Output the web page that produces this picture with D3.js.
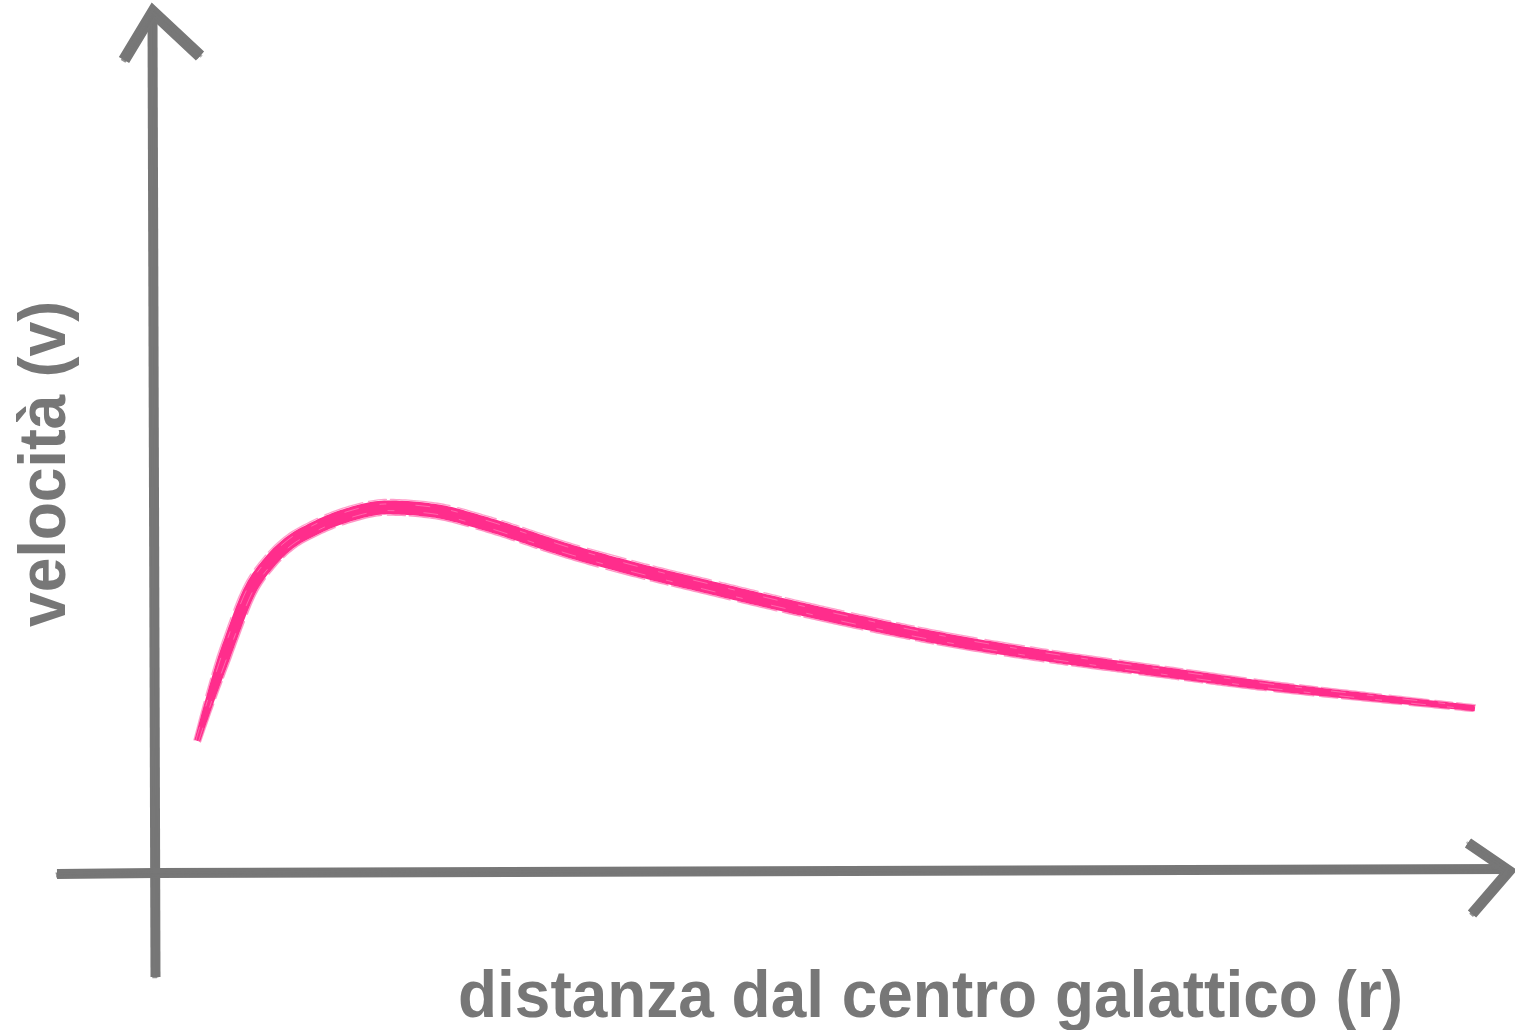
<!DOCTYPE html>
<html>
<head>
<meta charset="utf-8">
<script src="https://cdn.jsdelivr.net/npm/d3@7/dist/d3.min.js"></script>
<style>
  html, body { margin: 0; padding: 0; background: #fff; }
  svg { display: block; }
</style>
</head>
<body>
<svg id="chart" width="1515" height="1030"></svg>
<script>
// Rotation curve: orbital velocity vs distance from the galactic centre (arbitrary units)
const radius   = [3.2, 4.4, 5.7, 7.2, 8.7, 10.2, 12.0, 14.8, 17.6, 20.1, 21.6, 24.6, 31.7, 36.7, 41.8, 47.0, 51.9, 59.5, 67.0, 76.9, 83.7, 91.3, 100.0];
const velocity = [15.2, 21.1, 26.9, 32.7, 36.0, 38.2, 39.8, 41.5, 42.3, 42.1, 41.8, 40.6, 37.1, 35.0, 33.1, 31.2, 29.5, 27.1, 25.2, 23.1, 21.7, 20.4, 19.0];

const xLabel = "distanza dal centro galattico (r)";
const yLabel = "velocità (v)";

const svg = d3.select("#chart");
const axisColor = "#777777";
const curveColor = "#ff2d8c";

const x = d3.scaleLinear().domain([0, 100]).range([155, 1475]);
const y = d3.scaleLinear().domain([0, 100]).range([872, 10]);

// Hand-drawn look: every stroke is laid down a few times with small fixed offsets
const passes = [
  { dx: 0,    dy: 0,    w: 1.00, o: 1.00 },
  { dx: 0.8,  dy: -1.2, w: 0.55, o: 0.85 },
  { dx: -0.9, dy: 1.3,  w: 0.45, o: 0.80 },
  { dx: 1.6,  dy: 0.7,  w: 0.25, o: 0.55 },
  { dx: -1.5, dy: -0.8, w: 0.20, o: 0.50 }
];

function sketchLine(g, pts, width, color) {
  passes.forEach(p => {
    g.append("path")
      .attr("d", d3.line()(pts.map(([a, b]) => [a + p.dx, b + p.dy])))
      .attr("fill", "none")
      .attr("stroke", color)
      .attr("stroke-width", width * p.w)
      .attr("stroke-opacity", p.o)
      .attr("stroke-linecap", "butt")
      .attr("stroke-linejoin", "miter");
  });
}

const axes = svg.append("g").attr("class", "axes");

// vertical (velocity) axis with arrowhead
sketchLine(axes, [[x(0) + 0.5, 977], [x(0) - 2.5, y(100) + 6]], 10, axisColor);
sketchLine(axes, [[124, 60], [x(0) - 2, y(100) + 2], [200, 56]], 12, axisColor);

// horizontal (distance) axis with arrowhead
sketchLine(axes, [[57, 874], [x(0), 873], [1507, 869]], 10, axisColor);
sketchLine(axes, [[1468, 843], [1509, 871], [1472, 914]], 11, axisColor);

// rotation curve, drawn as a tapered brush stroke along a smooth path
const curve = svg.append("g").attr("class", "curve");
const pts = radius.map((r, i) => [x(r), y(velocity[i])]);
const guide = curve.append("path")
  .attr("d", d3.line().curve(d3.curveMonotoneX)(pts))
  .attr("fill", "none").attr("stroke", "none");
const node = guide.node();
const total = node.getTotalLength();
const N = 500;
const samples = d3.range(N + 1).map(i => {
  const p = node.getPointAtLength(total * i / N);
  return [p.x, p.y];
});
// brush width along the stroke (fraction of length -> px)
const brush = d3.scaleLinear().domain([0, 0.06, 0.2, 0.55, 0.8, 1]).range([6, 12, 14, 13, 10, 6]);
function normalAt(i) {
  const a = samples[Math.max(0, i - 3)], b = samples[Math.min(N, i + 3)];
  const dx = b[0] - a[0], dy = b[1] - a[1], len = Math.hypot(dx, dy) || 1;
  return [-dy / len, dx / len];
}
const left = [], right = [];
samples.forEach((s, i) => {
  const n = normalAt(i), w = brush(i / N) / 2;
  left.push([s[0] + n[0] * w, s[1] + n[1] * w]);
  right.push([s[0] - n[0] * w, s[1] - n[1] * w]);
});
curve.append("path")
  .attr("d", d3.line()(left.concat(right.reverse())) + "Z")
  .attr("fill", curveColor);

// loose bristle strands alongside the main stroke
const strands = [
  { off: 7.2,  w: 1.4, o: 0.5 },
  { off: -7.4, w: 1.3, o: 0.45 },
  { off: 3.0,  w: 0.8, o: 0.35, gap: true },
  { off: -3.2, w: 0.8, o: 0.35, gap: true }
];
strands.forEach(st => {
  const line = samples.map((s, i) => {
    const n = normalAt(i), k = brush(i / N) / 13;
    return [s[0] + n[0] * st.off * k, s[1] + n[1] * st.off * k];
  });
  curve.append("path")
    .attr("d", d3.line()(line))
    .attr("fill", "none")
    .attr("stroke", st.gap ? "#ffffff" : curveColor)
    .attr("stroke-width", st.w)
    .attr("stroke-opacity", st.o)
    .attr("stroke-dasharray", st.gap ? "14 22 6 30" : "40 6 18 4 60 8")
    .attr("stroke-linecap", "round");
});

// axis titles
const font = "'Liberation Sans', Arial, Helvetica, sans-serif";

svg.append("text")
  .attr("x", 458).attr("y", 1017)
  .attr("font-family", font).attr("font-weight", "bold")
  .attr("font-size", 66)
  .attr("textLength", 945).attr("lengthAdjust", "spacingAndGlyphs")
  .attr("fill", axisColor)
  .text(xLabel);

svg.append("text")
  .attr("transform", "translate(65,627) rotate(-90)")
  .attr("font-family", font).attr("font-weight", "bold")
  .attr("font-size", 66)
  .attr("textLength", 326).attr("lengthAdjust", "spacingAndGlyphs")
  .attr("fill", axisColor)
  .text(yLabel);
</script>
</body>
</html>
